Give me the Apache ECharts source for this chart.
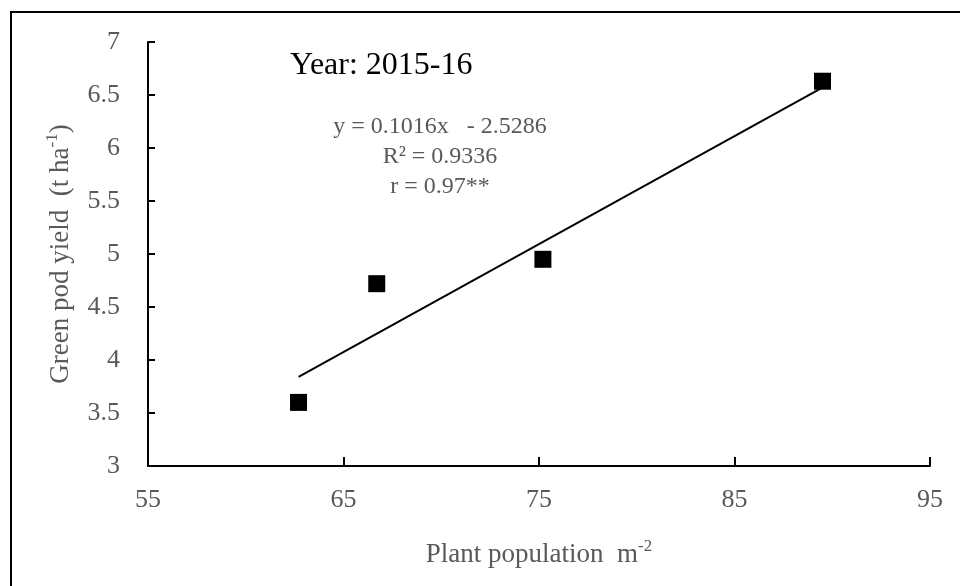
<!DOCTYPE html>
<html>
<head>
<meta charset="utf-8">
<script src="https://cdn.jsdelivr.net/npm/echarts@6/dist/echarts.min.js"></script>
<style>
html,body{margin:0;padding:0;background:#fff;}
#chart{width:960px;height:586px;}
</style>
</head>
<body>
<div id="chart"></div>
<script>
// Observed data (plant population m^-2 vs green pod yield t/ha)
var plantPopulation = [62.7, 66.7, 75.2, 89.5];
var greenPodYield   = [3.60, 4.72, 4.95, 6.63];
// Trend line endpoints
var trendX = [62.7, 89.4];
var trendY = [3.84, 6.56];
// Axis ticks
var xTicks = [55, 65, 75, 85, 95];
var yTicks = [3, 3.5, 4, 4.5, 5, 5.5, 6, 6.5, 7];
// Annotation texts
var yearLabel = 'Year: 2015-16';
var equationLines = ['y = 0.1016x   - 2.5286', 'R\u00B2 = 0.9336', 'r = 0.97**'];

var FONT = '"Liberation Serif", "Times New Roman", serif';
var GRAY = '#595959';

var scatterData = plantPopulation.map(function (x, i) { return [x, greenPodYield[i]]; });
var trendData = trendX.map(function (x, i) { return [x, trendY[i]]; });

var chart = echarts.init(document.getElementById('chart'), null, { renderer: 'canvas' });
chart.setOption({
  animation: false,
  backgroundColor: '#ffffff',
  grid: { left: 148, right: 30, top: 42, bottom: 120, containLabel: false },
  xAxis: {
    type: 'value',
    min: xTicks[0], max: xTicks[xTicks.length - 1], interval: 10,
    name: '{n|Plant population  m}{s|-2}',
    nameLocation: 'middle',
    nameGap: 72,
    nameTextStyle: {
      rich: {
        n: { fontFamily: FONT, fontSize: 27, color: GRAY, verticalAlign: 'bottom', lineHeight: 30 },
        s: { fontFamily: FONT, fontSize: 17, color: GRAY, verticalAlign: 'top', lineHeight: 30 }
      }
    },
    axisLine: { show: true, lineStyle: { color: '#000', width: 2 } },
    axisTick: { show: true, inside: true, length: 9, lineStyle: { color: '#000', width: 2 } },
    axisLabel: { color: GRAY, fontFamily: FONT, fontSize: 26, margin: 21,
      formatter: function (v) { return String(v); } },
    splitLine: { show: false }
  },
  yAxis: {
    type: 'value',
    min: yTicks[0], max: yTicks[yTicks.length - 1], interval: 0.5,
    name: '{n|Green pod yield  (t ha}{s|-1}{n|)}',
    nameLocation: 'middle',
    nameGap: 74,
    nameRotate: 90,
    nameTextStyle: {
      rich: {
        n: { fontFamily: FONT, fontSize: 27, color: GRAY, verticalAlign: 'bottom', lineHeight: 30 },
        s: { fontFamily: FONT, fontSize: 17, color: GRAY, verticalAlign: 'top', lineHeight: 30 }
      }
    },
    axisLine: { show: true, lineStyle: { color: '#000', width: 2 } },
    axisTick: { show: true, inside: true, length: 7, lineStyle: { color: '#000', width: 2 } },
    axisLabel: { color: GRAY, fontFamily: FONT, fontSize: 26, margin: 28,
      formatter: function (v) { return String(v); } },
    splitLine: { show: false }
  },
  series: [
    {
      type: 'line',
      data: trendData,
      showSymbol: false,
      symbol: 'none',
      lineStyle: { color: '#000', width: 2 },
      silent: true,
      z: 2
    },
    {
      type: 'scatter',
      data: scatterData,
      symbol: 'rect',
      symbolSize: 17,
      itemStyle: { color: '#000', opacity: 1 },
      z: 3
    }
  ],
  graphic: [
    {
      type: 'rect',
      shape: { x: 11, y: 12, width: 1200, height: 1000 },
      style: { fill: 'none', stroke: '#000', lineWidth: 2 },
      silent: true
    },
    {
      type: 'text',
      left: 290, top: 50,
      style: { text: yearLabel, font: '32px ' + FONT, fill: '#000' }
    },
    {
      type: 'text',
      x: 440, y: 112,
      style: {
        text: equationLines.join('\n'),
        font: '24px ' + FONT, fill: GRAY,
        align: 'center', lineHeight: 30
      }
    }
  ]
});
</script>
</body>
</html>
